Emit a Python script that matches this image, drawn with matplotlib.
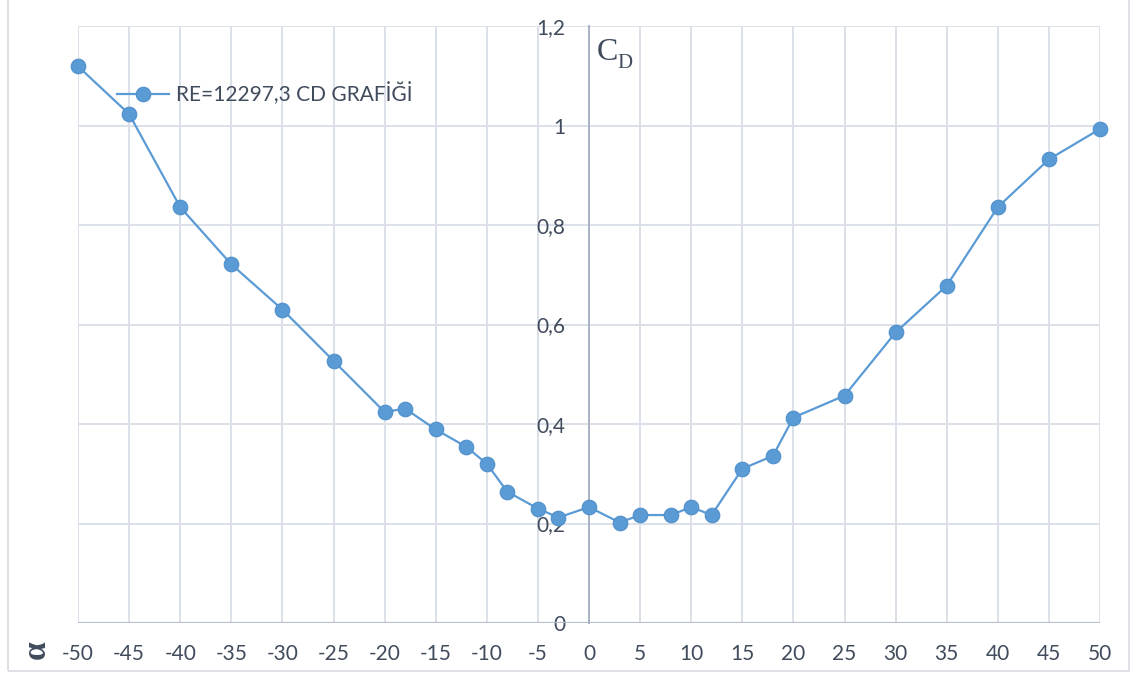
import matplotlib
matplotlib.use("Agg")
import matplotlib.pyplot as plt
from matplotlib.patches import Rectangle

plt.rcParams['axes.unicode_minus'] = False
plt.rcParams['font.family'] = ['Lato', 'DejaVu Sans']

alpha = [-50, -45, -40, -35, -30, -25, -20, -18, -15, -12, -10, -8, -5, -3,
         0, 3, 5, 8, 10, 12, 15, 18, 20, 25, 30, 35, 40, 45, 50]
cd = [1.119, 1.023, 0.836, 0.721, 0.630, 0.527, 0.424, 0.431, 0.389, 0.354,
      0.320, 0.264, 0.230, 0.212, 0.233, 0.202, 0.217, 0.217, 0.233, 0.217,
      0.310, 0.336, 0.413, 0.457, 0.584, 0.678, 0.836, 0.932, 0.993]
series_label = "RE=12297,3 CD GRAFİĞİ"
xticks = list(range(-50, 51, 5))
xtick_labels = [str(v) for v in xticks]
yticks = [0, 0.2, 0.4, 0.6, 0.8, 1.0, 1.2]
ytick_labels = ["0", "0,2", "0,4", "0,6", "0,8", "1", "1,2"]

W, H = 1138, 675
fig = plt.figure(figsize=(W / 100, H / 100), dpi=100)
fig.patch.set_facecolor('white')

# outer chart border
fig.patches.append(Rectangle((8 / W, 4 / H), (1129 - 8) / W, 1.0, transform=fig.transFigure,
                             fill=False, edgecolor='#D9DCE1', linewidth=1.2))

ax = fig.add_axes([78 / W, (H - 623) / H, (1100 - 78) / W, (623 - 26) / H])
text_color = '#404B5C'
grid_color = '#DCE0E8'

for s in ['top', 'right', 'bottom']:
    ax.spines[s].set_visible(False)
ax.spines['left'].set_position(('data', 0))
ax.spines['left'].set_color('#A9B3C5')
ax.spines['left'].set_linewidth(1.4)
ax.spines['left'].set_zorder(1)

ax.set_xlim(-50, 50)
ax.set_ylim(0, 1.2)
ax.set_xticks(xticks)
ax.set_xticklabels(xtick_labels)
ax.set_yticks(yticks)
ax.set_yticklabels(ytick_labels)
ax.tick_params(axis='both', length=0, labelsize=15, labelcolor=text_color)
ax.tick_params(axis='x', pad=15)
ax.tick_params(axis='y', pad=17)
ax.grid(True, color=grid_color, linewidth=1.4)
ax.set_axisbelow(True)
ax.axhline(0, color='#B8C0CE', linewidth=1.6, zorder=1)

ax.plot(alpha, cd, color='#5B9BD5', linewidth=1.6, marker='o', markersize=10.5,
        markerfacecolor='#5B9BD5', markeredgecolor='#4F8FCB', markeredgewidth=0.8,
        label=series_label, zorder=3, clip_on=False)

ax.legend(loc='center left', bbox_to_anchor=(117 / W, 1 - 94 / H), bbox_transform=fig.transFigure,
          frameon=False, fontsize=15, handlelength=2.5, handletextpad=0.35,
          borderpad=0, borderaxespad=0, labelcolor=text_color)

fig.text(597 / W, 1 - 60 / H, "C", fontsize=23, family=['Liberation Serif'],
         color=text_color, ha='left', va='baseline')
fig.text(617 / W, 1 - 68 / H, "D", fontsize=15, family=['Liberation Serif'],
         color=text_color, ha='left', va='baseline')
fig.text(36 / W, 1 - 650 / H, "α", fontsize=24, family=['Liberation Serif', 'DejaVu Serif'],
         fontweight='bold', rotation=90, color=text_color, ha='center', va='center')

fig.savefig("out.png", dpi=100)
